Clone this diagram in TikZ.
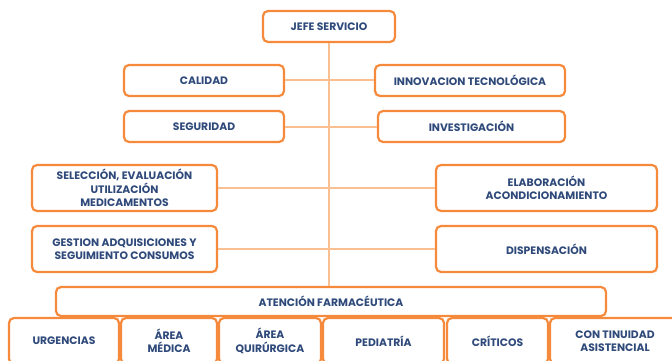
\documentclass[tikz,border=0pt]{standalone}
\usepackage{fontspec}
\setmainfont{Poppins}
\definecolor{boxorange}{HTML}{F58A3C}
\definecolor{lineorange}{HTML}{F9BF90}
\definecolor{textblue}{HTML}{2F4A7A}
\tikzset{
    unitbox/.style={draw=boxorange, line width=2.2pt, rounded corners=5pt, fill=white,
        text=textblue, font=\fontsize{10.8}{13.5}\selectfont\bfseries, align=center,
        inner sep=1pt, minimum height=31pt},
    spine/.style={draw=lineorange, line width=2pt}
}
\begin{document}
\begin{tikzpicture}[x=1pt, y=-1pt]
    \useasboundingbox (0,0) rectangle (672,361);
    \clip (0,0) rectangle (672,361);
    % direccion
    \node[unitbox, minimum width=132pt] (jefe) at (329,26.5) {JEFE SERVICIO};
    \node[unitbox, minimum width=550pt, minimum height=29pt] (aten) at (331,301.5) {ATENCIÓN FARMACÉUTICA};
    \coordinate (spineend) at (jefe.south |- aten.north);
    \draw[spine] (jefe.south) -- (spineend);
    % areas laterales
    \node[unitbox, minimum width=160pt] (cal) at (204,80.5) {CALIDAD};
    \node[unitbox, minimum width=190pt] (inn) at (470,80.5) {INNOVACION TECNOLÓGICA};
    \node[unitbox, minimum width=160pt] (seg) at (204,126.5) {SEGURIDAD};
    \node[unitbox, minimum width=187pt] (inv) at (471.5,126.5) {INVESTIGACIÓN};
    \node[unitbox, minimum width=185pt, minimum height=46pt] (sel) at (124.5,188) {SELECCIÓN, EVALUACIÓN\\UTILIZACIÓN\\MEDICAMENTOS};
    \node[unitbox, minimum width=221pt, minimum height=46pt] (ela) at (546.5,188) {ELABORACIÓN\\ACONDICIONAMIENTO};
    \node[unitbox, minimum width=185pt, minimum height=46pt] (ges) at (124.5,249) {GESTION ADQUISICIONES Y\\SEGUIMIENTO CONSUMOS};
    \node[unitbox, minimum width=221pt, minimum height=46pt] (dis) at (546.5,249) {DISPENSACIÓN};
    \draw[spine] (cal.east) -- (inn.west);
    \draw[spine] (seg.east) -- (inv.west);
    \draw[spine] (sel.east) -- (ela.west);
    \draw[spine] (ges.east) -- (dis.west);
    % unidades de atencion farmaceutica
    \node[unitbox, minimum width=110pt, minimum height=46pt] (urg) at (64,341) {URGENCIAS};
    \node[unitbox, minimum width=96pt, minimum height=46pt] (med) at (169,341) {ÁREA\\MÉDICA};
    \node[unitbox, minimum width=102pt, minimum height=46pt] (qui) at (270,341) {ÁREA\\QUIRÚRGICA};
    \node[unitbox, minimum width=121pt, minimum height=46pt] (ped) at (383.5,341) {PEDIATRÍA};
    \node[unitbox, minimum width=101pt, minimum height=46pt] (cri) at (497.5,341) {CRÍTICOS};
    \node[unitbox, minimum width=130pt, minimum height=46pt] (con) at (615,341) {CON TINUIDAD\\ASISTENCIAL};
\end{tikzpicture}
\end{document}
